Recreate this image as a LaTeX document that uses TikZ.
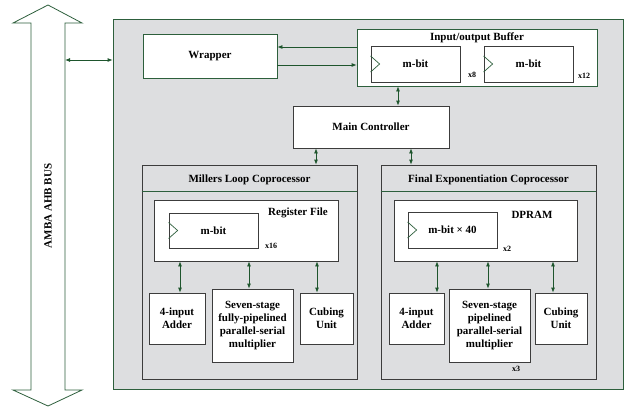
\documentclass[tikz,border=0pt]{standalone}
\usepackage{fontspec}
\setmainfont{Liberation Serif}
\usepackage{xcolor}
\usepackage{tikz}
\usetikzlibrary{positioning,arrows.meta}
\definecolor{busgreen}{RGB}{45,95,60}
\definecolor{linkgreen}{RGB}{30,85,45}
\definecolor{socgray}{RGB}{221,222,224}
\definecolor{boxline}{RGB}{60,60,60}

\begin{document}
\begin{tikzpicture}[x=1pt,y=-1pt,
  font=\bfseries\fontsize{11}{13}\selectfont,
  blk/.style={draw=boxline,line width=0.8pt,fill=white,inner sep=0pt,align=center},
  grpbox/.style={draw=boxline,line width=0.8pt,fill=socgray,inner sep=0pt},
  regbox/.style={draw=boxline,line width=0.8pt,fill=white,inner sep=0pt,minimum width=89,minimum height=36},
  small/.style={font=\bfseries\fontsize{8}{9}\selectfont,inner sep=0pt},
  link/.style={draw=linkgreen,line width=0.8pt,-{Latex[length=5pt,width=4pt]}},
  dlink/.style={draw=linkgreen,line width=0.8pt,{Latex[length=5pt,width=4pt]}-{Latex[length=5pt,width=4pt]}}]
  \useasboundingbox (0,0) rectangle (628,407);

  % AMBA bus, double-headed outline arrow
  \draw[draw=busgreen,line width=0.8pt,fill=white]
    (48,5) -- (82,23) -- (65,23) -- (65,390) -- (82,390) -- (48,406)
    -- (13,390) -- (31,390) -- (31,23) -- (13,23) -- cycle;
  \node[rotate=90] (bus) at (48,206) {AMBA AHB BUS};
  \coordinate (busport) at (65,60);

  % chip area
  \node[draw=busgreen,line width=0.8pt,fill=socgray,minimum width=510,minimum height=370] (soc) at (368,204) {};
  \draw[dlink] (busport) -- (busport -| soc.west);

  % wrapper + io buffer
  \node[blk,draw=busgreen,minimum width=134,minimum height=44] (wrap) at (210,56) {Wrapper};
  \node[blk,draw=busgreen,minimum width=240,minimum height=57] (buf) at (477,57.5) {};
  \node (buftitle) at (477,38) {Input/output Buffer};
  \node[regbox] (bufA) at (415.5,64) {m-bit};
  \node[regbox] (bufB) at (528.5,64) {m-bit};
  \node[small] (bufAn) at (472,75) {x8};
  \node[small] (bufBn) at (584,76) {x12};
  \draw[link] (357,47 -| buf.west) -- (357,47 -| wrap.east);
  \draw[link] (277,65 -| wrap.east) -- (277,65 -| buf.west);

  % main controller
  \node[blk,minimum width=156,minimum height=42] (ctrl) at (371,127) {Main Controller};
  \draw[dlink] (398,0 |- buf.south) -- (398,0 |- ctrl.north);

  % coprocessors
  \node[grpbox,minimum width=215,minimum height=214] (mlc) at (249.5,272) {};
  \node (mlctitle) at (249.5,180) {Millers Loop Coprocessor};
  \draw[busgreen,line width=0.8pt] (0,191 -| mlc.west) -- (0,191 -| mlc.east);
  \node[grpbox,minimum width=215,minimum height=214] (fec) at (488.5,272) {};
  \node (fectitle) at (488.5,180) {Final Exponentiation Coprocessor};
  \draw[busgreen,line width=0.8pt] (0,191 -| fec.west) -- (0,191 -| fec.east);
  \draw[dlink] (316,0 |- ctrl.south) -- (316,0 |- mlc.north);
  \draw[dlink] (411,0 |- ctrl.south) -- (411,0 |- fec.north);

  % millers loop: register file + units
  \node[blk,minimum width=184,minimum height=61] (rf) at (246,230.5) {};
  \node[regbox,minimum height=35] (rfreg) at (213.5,230.5) {m-bit};
  \node (rftitle) at (298,213) {Register File};
  \node[small] (rfn) at (271,246) {x16};
  \node[blk,minimum width=56,minimum height=51] (addA) at (177,318.5) {4-input\\Adder};
  \node[blk,minimum width=81,minimum height=73] (mulA) at (252.5,325.5) {Seven-stage\\fully-pipelined\\parallel-serial\\multiplier};
  \node[blk,minimum width=53,minimum height=51] (cubA) at (326.5,318.5) {Cubing\\Unit};
  \draw[dlink] (180,0 |- rf.south) -- (180,0 |- addA.north);
  \draw[dlink] (249,0 |- rf.south) -- (249,0 |- mulA.north);
  \draw[dlink] (317,0 |- rf.south) -- (317,0 |- cubA.north);

  % final exponentiation: dpram + units
  \node[blk,minimum width=183,minimum height=61] (dp) at (485.5,230.5) {};
  \node[regbox] (dpreg) at (452.5,230) {m-bit × 40};
  \node (dptitle) at (532,215) {DPRAM};
  \node[small] (dpn) at (507,249) {x2};
  \node[blk,minimum width=55,minimum height=51] (addB) at (416.5,318.5) {4-input\\Adder};
  \node[blk,minimum width=81,minimum height=73] (mulB) at (489.5,325.5) {Seven-stage\\pipelined\\parallel-serial\\multiplier};
  \node[small] (mulBn) at (516,369) {x3};
  \node[blk,minimum width=52,minimum height=51] (cubB) at (561,318.5) {Cubing\\Unit};
  \draw[dlink] (437,0 |- dp.south) -- (437,0 |- addB.north);
  \draw[dlink] (488,0 |- dp.south) -- (488,0 |- mulB.north);
  \draw[dlink] (553,0 |- dp.south) -- (553,0 |- cubB.north);

  % clock marks on the registers
  \foreach \r in {bufA,bufB,rfreg,dpreg}
    \draw[busgreen,line width=0.7pt] ([yshift=8]\r.west) -- ([xshift=9]\r.west) -- ([yshift=-8]\r.west);
\end{tikzpicture}
\end{document}
